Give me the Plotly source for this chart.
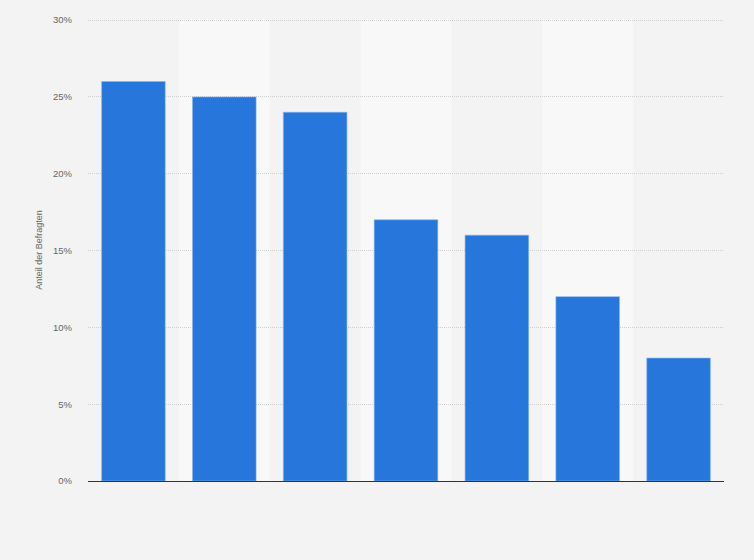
import plotly.graph_objects as go

# Daten
categories = ["A", "B", "C", "D", "E", "F", "G"]
values = [26, 25, 24, 17, 16, 12, 8]
y_ticks = [0, 5, 10, 15, 20, 25, 30]
y_tick_labels = ["0%", "5%", "10%", "15%", "20%", "25%", "30%"]

bar_trace = go.Bar(
    x=categories,
    y=values,
    marker=dict(color="#2776db", line=dict(color="#8ab4ee", width=0.6)),
    hoverinfo="y",
    showlegend=False,
)

fig = go.Figure(data=[bar_trace])

# bandes alternées
for i in range(1, len(categories), 2):
    fig.add_shape(
        type="rect",
        xref="x",
        yref="paper",
        x0=i - 0.5,
        x1=i + 0.5,
        y0=0,
        y1=1,
        fillcolor="#f8f8f8",
        line=dict(width=0),
        layer="below",
    )

fig.update_layout(
    width=754,
    height=560,
    paper_bgcolor="#f3f3f3",
    plot_bgcolor="#f3f3f3",
    margin=dict(l=88, r=30, t=19, b=79),
    bargap=0.3,
    font=dict(family="Liberation Sans, Arial", size=10, color="#666"),
    xaxis=dict(
        showticklabels=False,
        showgrid=False,
        zeroline=False,
        showline=True,
        linecolor="#333",
        linewidth=1,
        ticks="",
        range=[-0.5, 6.5],
    ),
    yaxis=dict(
        range=[0, 30.07],
        tickvals=y_ticks,
        ticktext=y_tick_labels,
        showgrid=True,
        gridcolor="#cfcfcf",
        griddash="1px,1px",
        gridwidth=1,
        zeroline=False,
        ticks="",
        ticklabelstandoff=15,
        tickfont=dict(size=9.5, color="#666"),
        title=dict(text="Anteil der Befragten", font=dict(size=9, color="#666"), standoff=8),
    ),
)

fig.write_html(
    "out.html",
    config={"displayModeBar": False},
    post_script="document.body.style.margin='0';",
)
